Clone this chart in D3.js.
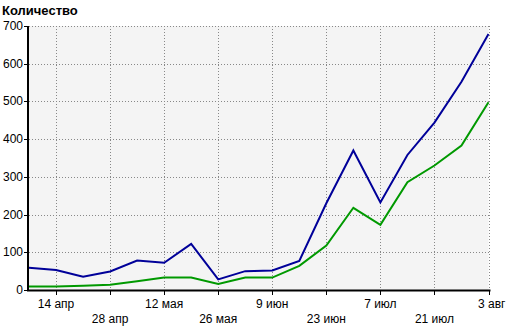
<!DOCTYPE html>
<html>
<head>
<meta charset="utf-8">
<script src="https://cdn.jsdelivr.net/npm/d3@7"></script>
<style>
  body { margin: 0; background: #fff; }
  svg { display: block; font-family: "Liberation Sans", Arial, sans-serif; }
</style>
</head>
<body>
<div id="chart"></div>
<script>
// weekly points, labels on every other week
var weeks = ['7 апр', '14 апр', '21 апр', '28 апр', '5 мая', '12 мая', '19 мая', '26 мая',
  '2 июн', '9 июн', '16 июн', '23 июн', '30 июн', '7 июл', '14 июл', '21 июл', '28 июл', '3 авг'];
var shownLabels = ['14 апр', '28 апр', '12 мая', '26 мая', '9 июн', '23 июн', '7 июл', '21 июл', '3 авг'];
var blueValues = [59, 53, 35, 49, 78, 72, 122, 28, 50, 52, 77, 230, 370, 232, 358, 444, 552, 679];
var greenValues = [9, 9, 11, 14, 23, 33, 33, 16, 33, 33, 64, 118, 218, 173, 286, 330, 383, 498];
var yTicks = [0, 100, 200, 300, 400, 500, 600, 700];

var width = 509, height = 329;
var plotLeft = 29, plotRight = 488.5, plotTop = 26, plotBottom = 290;

var svg = d3.select('#chart').append('svg')
  .attr('width', width)
  .attr('height', height);

var x = d3.scalePoint().domain(weeks).range([plotLeft, plotRight]);
var y = d3.scaleLinear().domain([0, 700]).range([plotBottom, plotTop]);

// plot background
svg.append('rect')
  .attr('x', plotLeft).attr('y', plotTop)
  .attr('width', plotRight - plotLeft).attr('height', plotBottom - plotTop)
  .style('fill', '#f4f4f4');

// horizontal grid
svg.append('g').selectAll('line')
  .data(yTicks.filter(function(d) { return d > 0; }))
  .enter().append('line')
    .attr('x1', plotLeft).attr('x2', plotRight + 1)
    .attr('y1', function(d) { return Math.round(y(d)) + 0.5; })
    .attr('y2', function(d) { return Math.round(y(d)) + 0.5; })
    .style('stroke', '#888').style('stroke-dasharray', '1,2');

// vertical grid
svg.append('g').selectAll('line')
  .data(shownLabels)
  .enter().append('line')
    .attr('x1', function(d) { return Math.round(x(d)) + 0.5; })
    .attr('x2', function(d) { return Math.round(x(d)) + 0.5; })
    .attr('y1', plotTop).attr('y2', plotBottom)
    .style('stroke', '#888').style('stroke-dasharray', '1,2');

// lines
var line = d3.line()
  .x(function(d, i) { return x(weeks[i]); })
  .y(function(d) { return y(d); });

svg.append('path').datum(greenValues)
  .attr('d', line)
  .style('fill', 'none').style('stroke', '#009900').style('stroke-width', 2);

svg.append('path').datum(blueValues)
  .attr('d', line)
  .style('fill', 'none').style('stroke', '#000099').style('stroke-width', 2);

// y axis
var yAxis = svg.append('g');
yAxis.append('line')
  .attr('x1', plotLeft - 1).attr('x2', plotLeft - 1)
  .attr('y1', plotTop).attr('y2', plotBottom + 1)
  .style('stroke', '#000').style('stroke-width', 2);
yAxis.selectAll('.tick')
  .data(yTicks)
  .enter().append('line')
    .attr('x1', plotLeft - 5).attr('x2', plotLeft - 1)
    .attr('y1', function(d) { return Math.round(y(d)) + 0.5; })
    .attr('y2', function(d) { return Math.round(y(d)) + 0.5; })
    .style('stroke', '#000');
yAxis.selectAll('text')
  .data(yTicks)
  .enter().append('text')
    .attr('x', plotLeft - 6)
    .attr('y', function(d) { return y(d) + 4; })
    .attr('text-anchor', 'end')
    .style('font-size', '12px')
    .text(function(d) { return d; });

// x axis
var xAxis = svg.append('g');
xAxis.append('line')
  .attr('x1', plotLeft - 2).attr('x2', plotRight + 2)
  .attr('y1', plotBottom + 0.5).attr('y2', plotBottom + 0.5)
  .style('stroke', '#000').style('stroke-width', 2);
xAxis.selectAll('.tick')
  .data(shownLabels)
  .enter().append('line')
    .attr('x1', function(d) { return Math.round(x(d)) + 0.5; })
    .attr('x2', function(d) { return Math.round(x(d)) + 0.5; })
    .attr('y1', plotBottom).attr('y2', plotBottom + 5)
    .style('stroke', '#000');
xAxis.selectAll('text')
  .data(shownLabels)
  .enter().append('text')
    .attr('x', function(d) { return x(d); })
    .attr('y', function(d, i) { return i % 2 === 0 ? 308 : 323; })
    .attr('text-anchor', function(d, i) { return i === shownLabels.length - 1 ? 'end' : 'middle'; })
    .attr('dx', function(d, i) { return i === shownLabels.length - 1 ? 17 : 0; })
    .style('font-size', '12px')
    .text(function(d) { return d; });

// title
svg.append('text')
  .attr('x', 2).attr('y', 15)
  .style('font-size', '13px')
  .style('font-weight', 'bold')
  .text('Количество');
</script>
</body>
</html>
